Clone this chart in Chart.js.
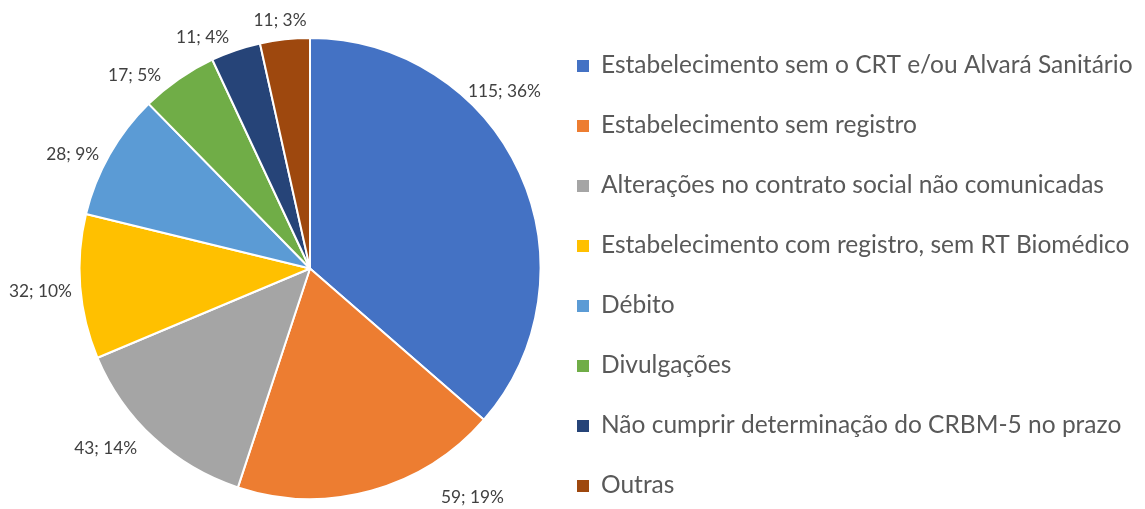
<!DOCTYPE html>
<html>
<head>
<meta charset="utf-8">
<script src="https://cdn.jsdelivr.net/npm/chart.js@4"></script>
<style>
    html, body { margin: 0; padding: 0; background: #fff; }
    #wrap { width: 1145px; height: 509px; position: relative; }
</style>
</head>
<body>
<div id="wrap"><canvas id="pie"></canvas></div>
<script>
const categories = [
    'Estabelecimento sem o CRT e/ou Alvará Sanitário',
    'Estabelecimento sem registro',
    'Alterações no contrato social não comunicadas',
    'Estabelecimento com registro, sem RT Biomédico',
    'Débito',
    'Divulgações',
    'Não cumprir determinação do CRBM-5 no prazo',
    'Outras'
];
const counts = [115, 59, 43, 32, 28, 17, 11, 11];
const percentLabels = ['36%', '19%', '14%', '10%', '9%', '5%', '4%', '3%'];

const sliceColors = ['#4472C4', '#ED7D31', '#A5A5A5', '#FFC000', '#5B9BD5', '#70AD47', '#264478', '#9E480E'];

// where each data label sits: [angle in degrees clockwise from top, distance / radius]
const labelLayout = [
    [47.6, 1.142], [144.6, 1.216], [228.7, 1.18], [265.1, 1.174],
    [295.7, 1.143], [317.8, 1.133], [335.1, 1.107], [353.1, 1.082]
];

const fontFamily = 'Lato, "Open Sans", sans-serif';

function fitSize(ctx, text, width) {
    ctx.font = `100px ${fontFamily}`;
    return 100 * width / ctx.measureText(text).width;
}

const labelsPlugin = {
    id: 'pieLabels',
    afterDatasetsDraw(chart) {
        const ctx = chart.ctx;
        const arcs = chart.getDatasetMeta(0).data;
        ctx.save();
        const size = fitSize(ctx, '115; 36%', 73);
        ctx.font = `${size}px ${fontFamily}`;
        ctx.fillStyle = '#404040';
        ctx.textAlign = 'center';
        ctx.textBaseline = 'middle';
        arcs.forEach((arc, i) => {
            const [deg, f] = labelLayout[i];
            const a = deg * Math.PI / 180;
            const r = arc.outerRadius * f;
            const x = arc.x + r * Math.sin(a);
            const y = arc.y - r * Math.cos(a);
            ctx.fillText(`${counts[i]}; ${percentLabels[i]}`, x, y);
        });
        ctx.restore();
    }
};

const legendPlugin = {
    id: 'sideLegend',
    afterDraw(chart) {
        const ctx = chart.ctx;
        ctx.save();
        const size = fitSize(ctx, categories[0], 532);
        ctx.font = `${size}px ${fontFamily}`;
        ctx.textAlign = 'left';
        ctx.textBaseline = 'alphabetic';
        categories.forEach((label, i) => {
            const base = 73 + i * 60.0;
            ctx.fillStyle = sliceColors[i];
            ctx.fillRect(577, base - 13, 12, 12);
            ctx.fillStyle = '#595959';
            ctx.fillText(label, 601, base);
        });
        ctx.restore();
    }
};

new Chart(document.getElementById('pie'), {
    type: 'pie',
    data: {
        labels: categories,
        datasets: [{
            data: counts,
            backgroundColor: sliceColors,
            borderColor: '#ffffff',
            borderWidth: 2
        }]
    },
    options: {
        responsive: true,
        maintainAspectRatio: false,
        animation: false,
        layout: {
            padding: { left: 78, right: 603, top: 37, bottom: 9 }
        },
        plugins: {
            legend: { display: false },
            tooltip: { enabled: false }
        }
    },
    plugins: [labelsPlugin, legendPlugin]
});
</script>
</body>
</html>
